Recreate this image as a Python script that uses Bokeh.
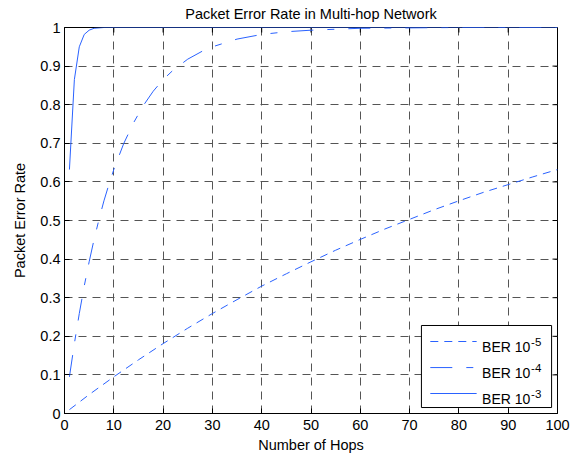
import math
from bokeh.plotting import figure
from bokeh.models import Range1d, FixedTicker
from bokeh.core.properties import value
from bokeh.embed import file_html
from bokeh.resources import INLINE

# ---------------- data ----------------
title_text = "Packet Error Rate in Multi-hop Network"
x_label = "Number of Hops"
y_label = "Packet Error Rate"

x_ticks = [0, 10, 20, 30, 40, 50, 60, 70, 80, 90, 100]
x_tick_labels = ["0", "10", "20", "30", "40", "50", "60", "70", "80", "90", "100"]
y_ticks = [0, 0.1, 0.2, 0.3, 0.4, 0.5, 0.6, 0.7, 0.8, 0.9, 1.0]
y_tick_labels = ["0", "0.1", "0.2", "0.3", "0.4", "0.5", "0.6", "0.7", "0.8", "0.9", "1"]

hops_ber5 = [1, 5, 10, 15, 20, 25, 30, 35, 40, 45, 50, 55, 60, 65, 70, 75, 80, 85, 90, 95, 100]
per_ber5 = [0.010, 0.049, 0.095, 0.139, 0.181, 0.221, 0.259, 0.295, 0.330, 0.362, 0.393,
            0.423, 0.451, 0.478, 0.503, 0.528, 0.551, 0.573, 0.593, 0.613, 0.632]

hops_ber4 = [1, 2, 3, 4, 5, 6, 7, 8, 9, 10, 12, 14, 16, 18, 20, 22, 25, 28, 30, 35, 40,
             45, 50, 60, 70, 80, 90, 100]
per_ber4 = [0.095, 0.181, 0.259, 0.330, 0.393, 0.451, 0.503, 0.551, 0.593, 0.632, 0.699,
            0.753, 0.798, 0.835, 0.865, 0.889, 0.918, 0.939, 0.950, 0.970, 0.982,
            0.989, 0.993, 0.998, 0.999, 1.0, 1.0, 1.0]

hops_ber3 = [1, 2, 3, 4, 5, 6, 7, 8, 10, 20, 30, 40, 50, 60, 70, 80, 90, 100]
per_ber3 = [0.632, 0.865, 0.950, 0.982, 0.993, 0.998, 0.999, 1.0, 1.0, 1.0, 1.0, 1.0,
            1.0, 1.0, 1.0, 1.0, 1.0, 1.0]

legend_base = ["BER 10", "BER 10", "BER 10"]
legend_exp = ["-5", "-4", "-3"]

# ---------------- style / layout constants ----------------
FONT = "Liberation Sans"
BLUE = "#2a62ff"
DASH_5 = "8 6"
DASH_4 = "22 14 7 14"
GRID_DASH = "8 6"

p = figure(width=581, height=457, title=title_text,
           x_range=Range1d(0, 100), y_range=Range1d(0, 1),
           output_backend="svg", toolbar_location=None,
           min_border_left=64, min_border_right=24,
           min_border_top=27, min_border_bottom=44)

p.background_fill_color = "white"
p.border_fill_color = "white"
p.outline_line_color = "black"
p.outline_line_width = 1
p.outline_line_alpha = 1

p.title.text_font = FONT
p.title.text_font_size = "14.5px"
p.title.text_font_style = "normal"
p.title.text_color = "black"
p.title.align = "center"
p.title.vertical_align = "top"
p.title.standoff = 8

# axes
for ax in (p.xaxis[0], p.yaxis[0]):
    ax.axis_line_color = "black"
    ax.major_tick_line_color = "black"
    ax.major_tick_in = 5
    ax.major_tick_out = 0
    ax.minor_tick_line_color = None
    ax.major_label_text_font = FONT
    ax.major_label_text_font_size = "14.5px"
    ax.major_label_text_color = "black"
    ax.axis_label_text_font = FONT
    ax.axis_label_text_font_size = "14.5px"
    ax.axis_label_text_font_style = "normal"
    ax.axis_label_text_color = "black"

p.xaxis[0].ticker = FixedTicker(ticks=x_ticks)
p.xaxis[0].major_label_overrides = {t: l for t, l in zip(x_ticks, x_tick_labels)}
p.xaxis[0].major_label_standoff = 6
p.xaxis[0].axis_label = x_label
p.xaxis[0].axis_label_standoff = 4

p.yaxis[0].ticker = FixedTicker(ticks=y_ticks)
p.yaxis[0].major_label_overrides = {t: l for t, l in zip(y_ticks, y_tick_labels)}
p.yaxis[0].major_label_standoff = 4
p.yaxis[0].axis_label = y_label
p.yaxis[0].axis_label_standoff = 9

# grid
p.xgrid.ticker = FixedTicker(ticks=x_ticks)
p.ygrid.ticker = FixedTicker(ticks=y_ticks)
for g in (p.xgrid[0], p.ygrid[0]):
    g.grid_line_color = "#555555"
    g.grid_line_width = 1
    g.grid_line_dash = GRID_DASH
    g.grid_line_alpha = 1

# inward ticks on top and right edges (box on)
p.ray(x=x_ticks, y=[y_ticks[-1]] * len(x_ticks), length=5, length_units="screen",
      angle=-math.pi / 2, line_color="black", line_width=1)
p.ray(x=[x_ticks[-1]] * len(y_ticks), y=y_ticks, length=5, length_units="screen",
      angle=math.pi, line_color="black", line_width=1)

# curves
p.line(hops_ber5, per_ber5, line_color=BLUE, line_width=1, line_dash=DASH_5)
p.line(hops_ber4, per_ber4, line_color=BLUE, line_width=1, line_dash=DASH_4)
p.line(hops_ber3, per_ber3, line_color=BLUE, line_width=1)

# legend (box + samples + labels), placed in data space lower-right
LEG_L, LEG_R, LEG_B, LEG_T = 72.4, 98.8, 0.0155, 0.228
ROWS = [0.1865, 0.119, 0.0518]
SAMPLE_X0, SAMPLE_X1, TEXT_X = 74.2, 83.6, 84.7
p.quad(left=[LEG_L], right=[LEG_R], bottom=[LEG_B], top=[LEG_T],
       fill_color="white", line_color="black", line_width=1)
dashes = [DASH_5, DASH_4, "solid"]
for ry, d in zip(ROWS, dashes):
    p.line([SAMPLE_X0, SAMPLE_X1], [ry, ry], line_color=BLUE, line_width=1, line_dash=d)
p.text(x=[TEXT_X] * 3, y=ROWS, text=legend_base, text_font=value(FONT),
       text_font_size="14px", text_baseline="alphabetic", text_align="left",
       y_offset=5, text_color="black")
p.text(x=[TEXT_X] * 3, y=ROWS, text=legend_exp, text_font=value(FONT),
       text_font_size="11.5px", text_baseline="alphabetic", text_align="left",
       x_offset=49, y_offset=0, text_color="black")

open("out.html", "w").write(file_html(p, INLINE))
